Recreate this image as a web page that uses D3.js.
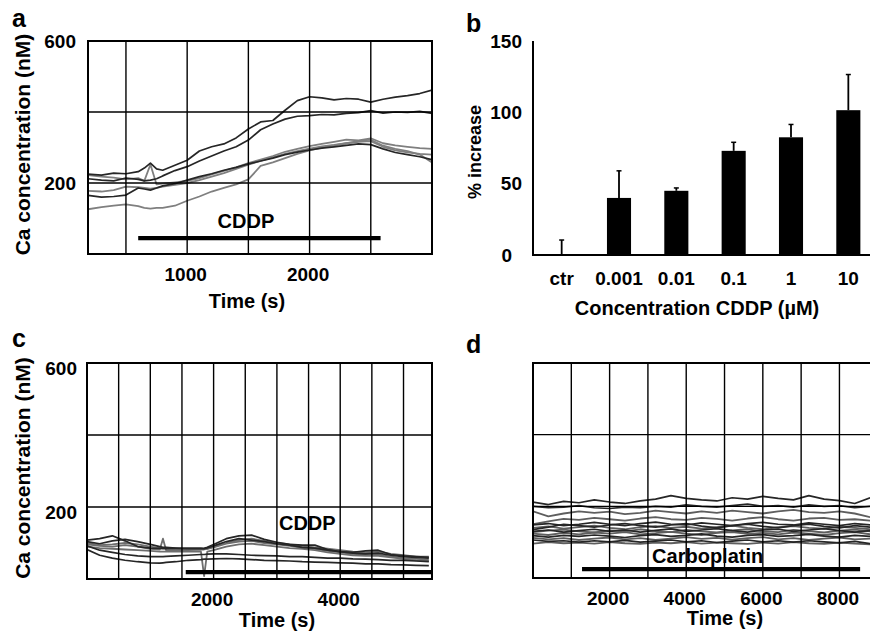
<!DOCTYPE html>
<html>
<head>
<meta charset="utf-8">
<script src="https://cdnjs.cloudflare.com/ajax/libs/d3/7.8.5/d3.min.js"></script>
<style>
  body { margin: 0; background: #fff; }
  text { font-family: "Liberation Sans", Arial, Helvetica, sans-serif; font-weight: bold; }
</style>
</head>
<body>
<svg width="870" height="632"></svg>
<script>
// ---- panel a : Ca traces, CDDP ----
var timeA = [190,300,400,500,600,650,700,750,800,900,1000,1100,1200,1300,1400,1500,1600,1700,1800,1900,2000,2100,2200,2300,2400,2500,2600,2700,2800,2900,3000];
var a1 = [225,222,228,226,232,242,256,240,236,250,264,290,302,310,327,352,372,376,405,432,443,440,434,438,436,428,436,442,446,452,462];
var a2 = [212,208,206,214,210,206,208,212,220,235,246,262,276,290,302,321,350,366,380,388,390,393,392,396,398,404,397,400,399,402,396];
var a3 = [165,160,162,166,186,183,180,186,192,198,208,218,226,236,244,254,262,270,280,287,293,298,302,306,310,308,296,286,280,274,266];
var a4 = [222,218,215,210,214,206,252,196,198,202,206,214,224,234,244,256,266,276,288,296,304,310,316,322,320,326,312,306,302,298,296];
var a5 = [178,176,180,190,188,186,184,186,190,195,200,208,218,228,240,252,262,272,282,290,297,303,307,312,316,318,302,292,286,282,280];
var a6 = [126,132,136,140,135,130,128,130,130,136,150,162,176,186,196,210,248,258,270,282,292,300,306,312,318,322,305,296,290,280,258];
var darkA = [a1, a2, a3];
var grayA = [a4, a5, a6];
var drugA = [600, 2580];

// ---- panel b : % increase vs dose ----
var doseLabels = ["ctr", "0.001", "0.01", "0.1", "1", "10"];
var increase = [0, 40, 45, 73, 82.5, 101.5];
var increaseErr = [10.5, 19, 2, 6, 9, 25];

// ---- panel c : Ca traces, CDDP (long) ----
var timeC = [0,200,400,600,800,1000,1150,1200,1250,1400,1600,1800,1850,1900,2000,2200,2400,2600,2800,3000,3200,3400,3600,3800,4000,4200,4400,4600,4800,5000,5200,5400];
var c1 = [108,112,120,106,90,86,85,84,84,85,86,86,85,88,96,112,120,122,110,102,96,94,94,82,76,74,78,80,68,64,62,60];
var c2 = [104,98,106,110,104,96,90,88,88,86,84,84,84,86,92,104,112,108,104,98,94,88,86,80,76,72,70,72,66,62,60,58];
var c3 = [96,92,90,94,90,84,82,112,80,80,80,82,84,84,88,98,104,106,100,96,92,88,84,78,74,70,68,68,62,58,56,54];
var c4 = [90,86,84,82,80,78,76,76,76,76,76,76,8,76,80,90,96,98,94,90,86,84,80,74,70,66,64,64,60,56,52,50];
var c5 = [92,80,74,68,64,62,62,62,63,64,66,68,68,69,70,70,68,66,65,64,62,62,60,58,58,56,55,54,52,52,50,48];
var c6 = [82,66,58,52,48,45,44,45,46,48,52,54,55,55,56,57,56,54,52,51,50,48,47,46,45,44,42,42,40,39,38,37];
var c7 = [100,94,96,100,96,90,86,86,86,84,83,82,82,84,90,100,108,112,106,100,96,92,88,84,80,76,74,76,70,66,62,62];
var darkC = [c1, c2, c5, c6];
var grayC = [c3, c4, c7];
var drugC = [1560, 5450];

// ---- panel d : Ca traces, carboplatin ----
var timeD = [0,400,800,1200,1600,2000,2400,2800,3200,3600,4000,4400,4800,5200,5600,6000,6400,6800,7200,7600,8000,8400,8800];
var cb1  = [212,205,214,210,218,212,208,215,220,230,222,218,215,224,220,228,222,218,230,220,216,208,224];
var cb2  = [200,196,198,202,196,194,198,196,200,198,204,200,198,202,206,200,202,198,204,200,202,196,200];
var cb3  = [186,172,180,186,182,185,178,182,188,184,180,186,182,188,184,180,186,190,184,182,186,180,170];
var cb4  = [150,158,165,162,168,164,160,166,170,164,162,168,165,160,166,170,164,160,166,168,162,164,160];
var cb5  = [148,152,146,150,155,150,146,152,156,150,148,154,150,146,152,155,150,148,154,150,146,152,148];
var cb6  = [140,144,138,142,146,140,136,142,145,140,143,138,142,146,140,136,142,145,140,138,143,140,136];
var cb7  = [130,134,128,132,136,130,134,128,133,137,130,134,138,132,128,134,136,130,134,138,132,128,132];
var cb8  = [124,120,126,122,127,124,128,122,125,129,124,120,126,128,123,126,122,127,124,120,125,128,122];
var cb9  = [118,114,119,116,120,117,113,118,121,116,119,123,117,114,119,121,116,118,122,117,114,119,116];
var cb10 = [112,108,111,106,110,113,108,111,106,110,114,109,112,107,111,114,108,111,106,110,113,108,110];
var cb11 = [106,102,104,100,104,101,105,100,103,106,101,104,99,103,106,101,104,100,104,101,98,102,96];
var cb12 = [96,100,97,99,96,100,97,95,99,97,100,96,99,97,95,99,96,100,97,95,99,96,94];
var cb13 = [135,142,150,146,142,148,152,146,142,148,152,145,140,146,150,144,140,146,150,144,140,146,142];
var cb14 = [128,132,135,130,127,133,130,136,131,128,134,130,127,133,136,130,128,134,131,127,132,135,130];
var darkD = [cb1, cb2, cb5, cb7, cb9, cb11, cb13];
var grayD = [cb3, cb4, cb6, cb8, cb10, cb12, cb14];
var drugD = [1280, 8540];

var svg = d3.select("svg");
var dark = "#262626";

function tracePanel(p) {
    var x = d3.scaleLinear().domain(p.xDomain).range([p.left, p.right]);
    var y = d3.scaleLinear().domain([0, 600]).range([p.bottom, p.top]);
    var g = svg.append("g");

    g.append("clipPath").attr("id", p.id)
        .append("rect")
        .attr("x", p.left).attr("y", p.top)
        .attr("width", p.right - p.left).attr("height", p.bottom - p.top);

    var line = d3.line()
        .x(function(d, i) { return x(p.times[i]); })
        .y(function(d) { return y(d); });

    var traces = g.append("g").attr("clip-path", "url(#" + p.id + ")");
    p.gray.forEach(function(s) {
        traces.append("path").datum(s)
            .attr("fill", "none").attr("stroke", p.grayTone)
            .attr("stroke-width", 1.8).attr("stroke-linejoin", "round")
            .attr("d", line);
    });
    p.dark.forEach(function(s) {
        traces.append("path").datum(s)
            .attr("fill", "none").attr("stroke", dark)
            .attr("stroke-width", 1.7).attr("stroke-linejoin", "round")
            .attr("d", line);
    });

    // grid
    g.selectAll(".vg").data(p.xGrid).enter().append("line")
        .attr("x1", function(d) { return x(d); }).attr("x2", function(d) { return x(d); })
        .attr("y1", p.top).attr("y2", p.bottom)
        .attr("stroke", "#000").attr("stroke-width", 1.4);
    g.selectAll(".hg").data([200, 400]).enter().append("line")
        .attr("x1", p.left).attr("x2", p.right)
        .attr("y1", function(d) { return y(d); }).attr("y2", function(d) { return y(d); })
        .attr("stroke", "#000").attr("stroke-width", 1.4);

    g.append("rect")
        .attr("x", p.left).attr("y", y(600))
        .attr("width", p.right - p.left).attr("height", p.bottom - p.top)
        .attr("fill", "none").attr("stroke", "#000").attr("stroke-width", 2);

    // drug application bar
    g.append("line")
        .attr("x1", x(p.drug[0])).attr("x2", x(p.drug[1]))
        .attr("y1", y(p.drugLevel)).attr("y2", y(p.drugLevel))
        .attr("stroke", "#000").attr("stroke-width", 4.3);
    g.append("text")
        .attr("x", x(p.drugTextAt)).attr("y", p.drugTextY)
        .attr("text-anchor", "middle").attr("font-size", 20)
        .text(p.drugName);

    var xa = g.append("g")
        .attr("transform", "translate(-2," + p.bottom + ")")
        .call(d3.axisBottom(x).tickValues(p.xLabels).tickSize(0).tickPadding(p.xPad).tickFormat(d3.format("d")));
    xa.select(".domain").remove();
    xa.selectAll("text").attr("font-size", 19).attr("font-family", null);

    if (p.yLabels) {
        var ya = g.append("g")
            .attr("transform", "translate(" + p.left + ",0)")
            .call(d3.axisLeft(y).tickValues(p.yLabels).tickSize(0).tickPadding(p.yPad));
        ya.select(".domain").remove();
        ya.selectAll("text").attr("font-size", 19).attr("font-family", null).attr("dy", p.yDy);

        g.append("text")
            .attr("transform", "translate(29.5," + ((p.top + p.bottom) / 2 - 3) + ") rotate(-90)")
            .attr("text-anchor", "middle").attr("font-size", 21)
            .text("Ca concentration (nM)");
    }

    g.append("text")
        .attr("x", p.titleX).attr("y", p.titleY)
        .attr("text-anchor", "middle").attr("font-size", 20)
        .text("Time (s)");
}

tracePanel({
    id: "clipA", left: 88, right: 432, top: 41, bottom: 254,
    xDomain: [190, 3000], xGrid: [500, 1000, 1500, 2000, 2500], xLabels: [1000, 2000],
    yLabels: [200, 600], yPad: 12, yDy: "0.32em", xPad: 13.5,
    times: timeA, dark: darkA, gray: grayA, grayTone: "#7f7f7f",
    drug: drugA, drugLevel: 45, drugName: "CDDP", drugTextAt: 1480, drugTextY: 228,
    titleX: 247, titleY: 308
});

tracePanel({
    id: "clipC", left: 87, right: 432, top: 363, bottom: 579,
    xDomain: [0, 5450], xGrid: [500, 1000, 1500, 2000, 2500, 3000, 3500, 4000, 4500, 5000], xLabels: [2000, 4000],
    yLabels: [200, 600], yPad: 10, yDy: "0.58em", xPad: 14,
    times: timeC, dark: darkC, gray: grayC, grayTone: "#6e6e6e",
    drug: drugC, drugLevel: 19, drugName: "CDDP", drugTextAt: 3480, drugTextY: 530,
    titleX: 277, titleY: 627
});

tracePanel({
    id: "clipD", left: 533, right: 872, top: 363, bottom: 578,
    xDomain: [0, 8850], xGrid: [1000, 2000, 3000, 4000, 5000, 6000, 7000, 8000], xLabels: [2000, 4000, 6000, 8000],
    yLabels: null, xPad: 13.5,
    times: timeD, dark: darkD, gray: grayD, grayTone: "#5e5e5e",
    drug: drugD, drugLevel: 25, drugName: "Carboplatin", drugTextAt: 4560, drugTextY: 563,
    titleX: 725, titleY: 625
});

// ---- panel b ----
var xb = d3.scaleBand().domain(doseLabels).range([533, 877]).paddingInner(0.58).paddingOuter(0.29);
var yb = d3.scaleLinear().domain([0, 150]).range([255, 41]);
var gb = svg.append("g");

gb.selectAll(".err").data(doseLabels).enter().append("line")
    .attr("x1", function(d) { return xb(d) + xb.bandwidth() / 2; })
    .attr("x2", function(d) { return xb(d) + xb.bandwidth() / 2; })
    .attr("y1", function(d, i) { return yb(increase[i]); })
    .attr("y2", function(d, i) { return yb(increase[i] + increaseErr[i]); })
    .attr("stroke", "#000").attr("stroke-width", 1.8);
gb.selectAll(".cap").data(doseLabels).enter().append("line")
    .attr("x1", function(d) { return xb(d) + xb.bandwidth() / 2 - 2.5; })
    .attr("x2", function(d) { return xb(d) + xb.bandwidth() / 2 + 2.5; })
    .attr("y1", function(d, i) { return yb(increase[i] + increaseErr[i]); })
    .attr("y2", function(d, i) { return yb(increase[i] + increaseErr[i]); })
    .attr("stroke", "#000").attr("stroke-width", 1.5);

gb.selectAll(".bar").data(doseLabels).enter().append("rect")
    .attr("x", function(d) { return xb(d); })
    .attr("width", xb.bandwidth())
    .attr("y", function(d, i) { return yb(increase[i]); })
    .attr("height", function(d, i) { return yb(0) - yb(increase[i]); })
    .attr("fill", "#000");

var xba = gb.append("g").attr("transform", "translate(0,255)")
    .call(d3.axisBottom(xb).tickSize(0).tickPadding(16.5));
xba.select(".domain").remove();
xba.selectAll("text").attr("font-size", 19).attr("font-family", null);

var yba = gb.append("g").attr("transform", "translate(533,0)")
    .call(d3.axisLeft(yb).tickValues([0, 50, 100, 150]).tickSize(0).tickPadding(11));
yba.select(".domain").remove();
yba.selectAll("text").attr("font-size", 19).attr("font-family", null)
    .attr("dx", function(d) { return d === 0 ? -10 : 0; });

gb.append("line").attr("x1", 533).attr("x2", 533).attr("y1", 41).attr("y2", 256)
    .attr("stroke", "#000").attr("stroke-width", 2);
gb.append("line").attr("x1", 532).attr("x2", 870).attr("y1", 255).attr("y2", 255)
    .attr("stroke", "#000").attr("stroke-width", 2);

gb.append("text")
    .attr("transform", "translate(481,152) rotate(-90)")
    .attr("text-anchor", "middle").attr("font-size", 18)
    .text("% increase");
gb.append("text")
    .attr("x", 697).attr("y", 315)
    .attr("text-anchor", "middle").attr("font-size", 20)
    .text("Concentration CDDP (\u00b5M)");

// panel letters
var letters = [["a", 12, 27], ["b", 466, 32], ["c", 12, 347], ["d", 466, 353]];
svg.selectAll(".letter").data(letters).enter().append("text")
    .attr("x", function(d) { return d[1]; })
    .attr("y", function(d) { return d[2]; })
    .attr("font-size", 25)
    .text(function(d) { return d[0]; });
</script>
</body>
</html>
